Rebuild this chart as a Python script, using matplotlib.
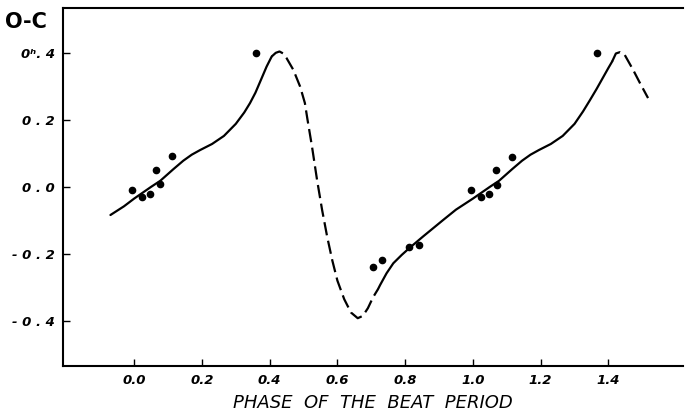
import numpy as np
import matplotlib.pyplot as plt

# observed O-C values against phase of the beat period
phase_obs = [-0.005, 0.023, 0.048, 0.065, 0.077, 0.113, 0.361,
             0.705, 0.731, 0.812, 0.842,
             0.995, 1.024, 1.047, 1.067, 1.072, 1.115, 1.365]
oc_obs = [-0.008, -0.030, -0.020, 0.049, 0.008, 0.093, 0.398,
          -0.239, -0.218, -0.180, -0.173,
          -0.008, -0.029, -0.022, 0.049, 0.007, 0.090, 0.398]

# model curve, solid and dashed parts
solid1_x = [-0.07, -0.03, 0.0, 0.05, 0.077, 0.116, 0.145, 0.17, 0.195, 0.23, 0.265,
            0.30, 0.325, 0.342, 0.358, 0.372, 0.391, 0.406]
solid1_y = [-0.084, -0.058, -0.035, 0.0, 0.018, 0.053, 0.078, 0.096, 0.110, 0.128, 0.152,
            0.188, 0.222, 0.25, 0.281, 0.314, 0.359, 0.389]

dash1_x = [0.406, 0.418, 0.429, 0.44, 0.45, 0.47, 0.49, 0.504, 0.511, 0.525, 0.54,
           0.555, 0.57, 0.585, 0.60, 0.62, 0.64, 0.66, 0.675, 0.69, 0.705, 0.72]
dash1_y = [0.389, 0.400, 0.404, 0.398, 0.384, 0.349, 0.299, 0.25, 0.205, 0.12, 0.02,
           -0.07, -0.15, -0.22, -0.28, -0.335, -0.375, -0.392, -0.385, -0.362, -0.33, -0.305]

solid2_x = [0.72, 0.726, 0.745, 0.765, 0.79, 0.812, 0.853, 0.912, 0.95, 1.0, 1.05,
            1.077, 1.116, 1.145, 1.17, 1.195, 1.23, 1.265, 1.30, 1.325, 1.345, 1.365,
            1.385, 1.40, 1.411]
solid2_y = [-0.305, -0.293, -0.258, -0.228, -0.203, -0.183, -0.148, -0.099, -0.068,
            -0.035, 0.0, 0.018, 0.053, 0.078, 0.096, 0.110, 0.128, 0.152, 0.188, 0.225,
            0.258, 0.292, 0.328, 0.355, 0.374]

dash2_x = [1.411, 1.422, 1.434, 1.448, 1.473, 1.493, 1.517]
dash2_y = [0.374, 0.398, 0.402, 0.394, 0.349, 0.31, 0.265]

xticks = [0.0, 0.2, 0.4, 0.6, 0.8, 1.0, 1.2, 1.4]
xtick_labels = ['0.0', '0.2', '0.4', '0.6', '0.8', '1.0', '1.2', '1.4']
yticks = [-0.4, -0.2, 0.0, 0.2, 0.4]
ytick_labels = ['- 0 . 4', '- 0 . 2', '0 . 0', '0 . 2', '0ʰ. 4']

fig = plt.figure(figsize=(6.85, 4.17), dpi=100)
ax = fig.add_axes([0.092, 0.122, 0.905, 0.859])

ax.plot(solid1_x, solid1_y, color='black', lw=1.6, solid_capstyle='round')
ax.plot(solid2_x, solid2_y, color='black', lw=1.6, solid_capstyle='round')
ax.plot(dash1_x, dash1_y, color='black', lw=1.6, dashes=(6, 2.5))
ax.plot(dash2_x, dash2_y, color='black', lw=1.6, dashes=(6, 2.5))
ax.plot(phase_obs, oc_obs, 'o', color='black', ms=4.5)

ax.set_xlim(-0.21, 1.62)
ax.set_ylim(-0.535, 0.534)

ax.set_xticks(xticks)
ax.set_xticklabels(xtick_labels)
ax.set_yticks(yticks)
ax.set_yticklabels(ytick_labels)
ax.tick_params(direction='in', length=5, width=1, pad=6)
for lab in ax.get_xticklabels() + ax.get_yticklabels():
    lab.set_fontstyle('italic')
    lab.set_fontweight('bold')
    lab.set_fontsize(9.5)

for s in ['left', 'bottom', 'top']:
    ax.spines[s].set_linewidth(1.5)
ax.spines['right'].set_visible(False)

ax.set_xlabel('PHASE  OF  THE  BEAT  PERIOD', fontsize=13, fontstyle='italic', labelpad=5)
fig.text(0.008, 0.947, 'O-C', fontsize=15, fontweight='bold', va='center', ha='left')

fig.savefig('out.png')
